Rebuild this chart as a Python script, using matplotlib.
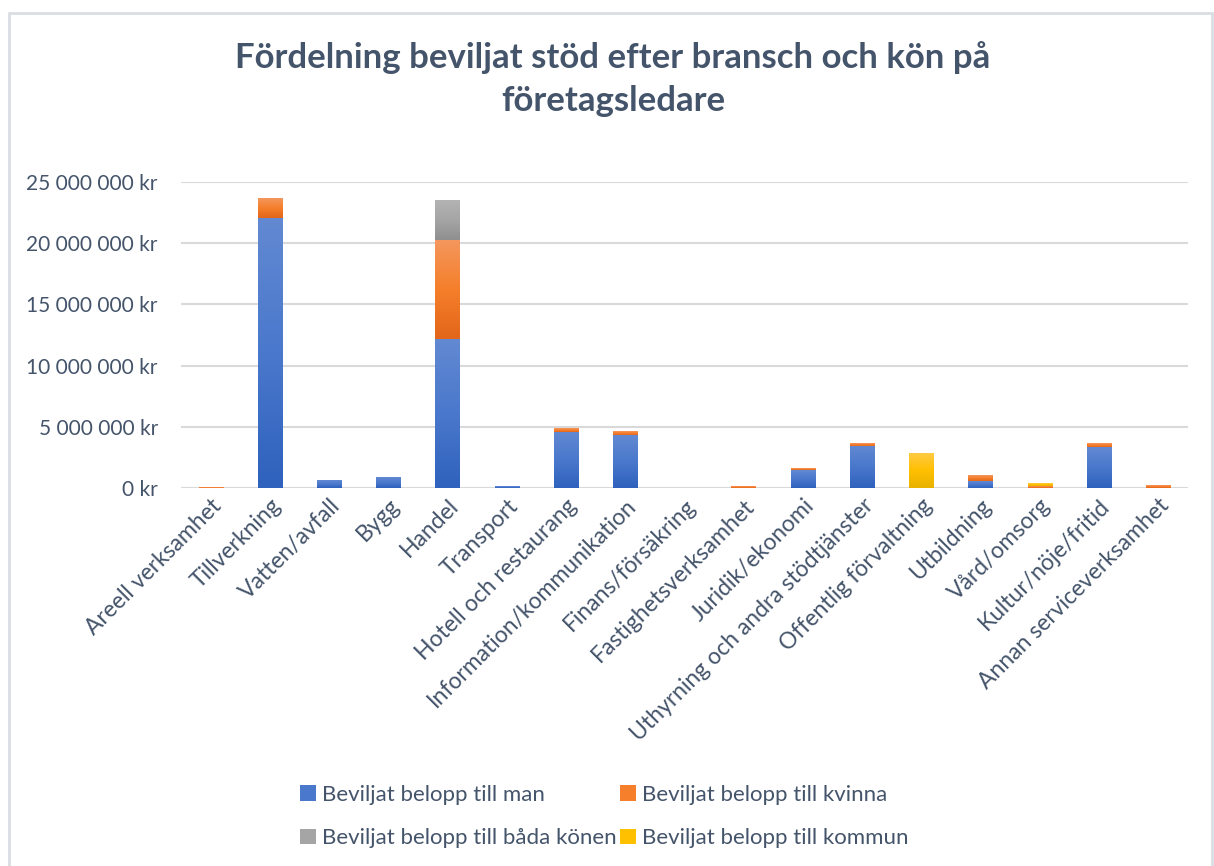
import numpy as np
import matplotlib
matplotlib.use("Agg")
import matplotlib.pyplot as plt
from matplotlib.colors import LinearSegmentedColormap
from matplotlib.patches import Rectangle

plt.rcParams['font.family'] = ['Lato', 'DejaVu Sans']

# categories
branscher = ['Areell verksamhet', 'Tillverkning', 'Vatten/avfall', 'Bygg', 'Handel',
             'Transport', 'Hotell och restaurang', 'Information/kommunikation',
             'Finans/försäkring', 'Fastighetsverksamhet', 'Juridik/ekonomi',
             'Uthyrning och andra stödtjänster', 'Offentlig förvaltning', 'Utbildning',
             'Vård/omsorg', 'Kultur/nöje/fritid', 'Annan serviceverksamhet']

# series values (kr)
man = [0, 22100000, 650000, 820000, 12150000, 160000, 4590000, 4290000,
       0, 0, 1470000, 3450000, 0, 570000, 0, 3340000, 0]
kvinna = [80000, 1600000, 0, 0, 8150000, 0, 300000, 280000,
          0, 160000, 160000, 220000, 0, 410000, 160000, 250000, 240000]
bada = [0, 0, 0, 0, 3200000, 0, 0, 0, 0, 0, 0, 0, 0, 0, 0, 0, 0]
kommun = [0, 0, 0, 0, 0, 0, 0, 0, 0, 0, 0, 0, 2850000, 0, 170000, 0, 0]

serier = [
    ('Beviljat belopp till man', man, ['#6289d2', '#4a78cc', '#2f62bd']),
    ('Beviljat belopp till kvinna', kvinna, ['#f4975e', '#f57f2b', '#e3661a']),
    ('Beviljat belopp till båda könen', bada, ['#b3b3b3', '#a5a5a5', '#8f8f8f']),
    ('Beviljat belopp till kommun', kommun, ['#ffca45', '#ffc000', '#e8b200']),
]

text_color = '#44546a'

fig = plt.figure(figsize=(12.14, 8.66), dpi=100)
ax = fig.add_axes([0.1494, 0.4365, 0.8292, 0.3533])

x = np.arange(len(branscher))
bottom = np.zeros(len(branscher))
grad = np.linspace(1, 0, 64).reshape(-1, 1)
handles = []
for namn, vals, cols in serier:
    vals = np.array(vals, dtype=float)
    bars = ax.bar(x, vals, bottom=bottom, width=0.42, color=cols[1], label=namn,
                  zorder=2, linewidth=0)
    handles.append(bars)
    cmap = LinearSegmentedColormap.from_list(namn, [cols[2], cols[1], cols[0]])
    for b, v in zip(bars, vals):
        if v <= 0:
            continue
        x0, y0 = b.get_x(), b.get_y()
        ax.imshow(grad, extent=(x0, x0 + b.get_width(), y0, y0 + b.get_height()),
                  aspect='auto', cmap=cmap, vmin=0, vmax=1, zorder=3,
                  interpolation='bilinear')
    bottom += vals

ax.set_xlim(-0.5, len(branscher) - 0.5)
ax.set_ylim(0, 25000000)
ax.set_yticks(np.arange(0, 25000001, 5000000))
ax.set_yticklabels([('{:,.0f}'.format(v).replace(',', ' ') + ' kr') if v else '0 kr'
                    for v in np.arange(0, 25000001, 5000000)])
ax.set_xticks(x)
ax.set_xticklabels(branscher, rotation=45, ha='right', rotation_mode='anchor')
ax.tick_params(axis='both', length=0, colors=text_color, labelsize=15)
ax.tick_params(axis='x', labelsize=16.5, pad=5)
ax.tick_params(axis='y', pad=17)
ax.grid(axis='y', color='#d9d9d9', linewidth=1.5, zorder=0)
ax.set_axisbelow(True)
for s in ax.spines.values():
    s.set_visible(False)

fig.text(0.505, 0.934, 'Fördelning beviljat stöd efter bransch och kön på',
         ha='center', va='center', fontsize=25, fontweight='bold', color=text_color)
fig.text(0.505, 0.883, 'företagsledare',
         ha='center', va='center', fontsize=25, fontweight='bold', color=text_color)

# row-wise order: man | kvinna, båda | kommun
order = [0, 2, 1, 3]
ax.legend([handles[i] for i in order], [serier[i][0] for i in order],
          loc='upper left', bbox_to_anchor=(0.098, -0.905), ncol=2, frameon=False,
          fontsize=16, labelcolor=text_color, handlelength=0.7, handleheight=0.7,
          handletextpad=0.3, columnspacing=0.15, labelspacing=1.05)

fig.patches.append(Rectangle((9 / 1214, -0.01), 1203 / 1214, 1 - 13 / 866 + 0.01,
                             transform=fig.transFigure, fill=False,
                             edgecolor='#d9dee3', linewidth=2))

fig.savefig('out.png', dpi=100)
